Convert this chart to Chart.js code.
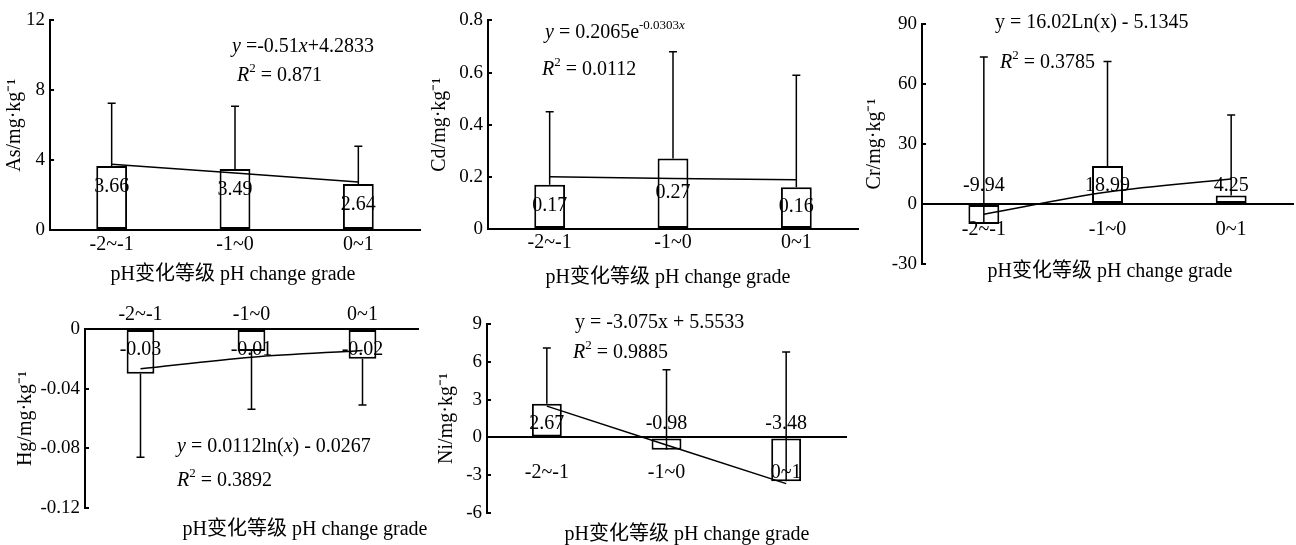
<!DOCTYPE html>
<html>
<head>
<meta charset="utf-8">
<script src="https://cdn.jsdelivr.net/npm/chart.js@4.4.1/dist/chart.umd.min.js"></script>
<style>
body { margin: 0; background: #fff; }
#wrap { position: relative; width: 1296px; height: 545px; overflow: hidden; background: #fff; }
#wrap canvas { position: absolute; left: 0; top: 0; }
</style>
</head>
<body>
<div id="wrap">
  <canvas id="asChart" width="1296" height="545"></canvas>
  <canvas id="cdChart" width="1296" height="545"></canvas>
  <canvas id="crChart" width="1296" height="545"></canvas>
  <canvas id="hgChart" width="1296" height="545"></canvas>
  <canvas id="niChart" width="1296" height="545"></canvas>
</div>
<script>
// pH change grades (categories)
const grades = ['-2~-1', '-1~0', '0~1'];

// As
const asValues = [3.66, 3.49, 2.64];
const asErrors = [3.6, 3.6, 2.16];
const asTrend = [3.77, 3.26, 2.75];
const asTicks = [0, 4, 8, 12];

// Cd
const cdValues = [0.17, 0.27, 0.16];
const cdErrors = [0.28, 0.41, 0.43];
const cdTrend = [0.200, 0.194, 0.189];
const cdTicks = [0, 0.2, 0.4, 0.6, 0.8];

// Cr
const crValues = [-9.94, 18.99, 4.25];
const crErrors = [83.4, 52.2, 40.3];
const crTrend = [-5.13, 5.97, 12.47];
const crTicks = [-30, 0, 30, 60, 90];

// Hg (error bars point downwards)
const hgValues = [-0.030, -0.0148, -0.020];
const hgErrors = [-0.056, -0.039, -0.031];
const hgTrend = [-0.0267, -0.0189, -0.0144];
const hgTicks = [-0.12, -0.08, -0.04, 0];

// Ni
const niValues = [2.67, -0.98, -3.48];
const niErrors = [4.42, 6.35, 10.26];
const niTrend = [2.48, -0.60, -3.67];
const niTicks = [-6, -3, 0, 3, 6, 9];

const xTitle = 'pH变化等级 pH change grade';
const FONT = '"Liberation Serif", "Times New Roman", "Noto Sans CJK SC", serif';
const SIZE = 20;

Chart.defaults.font.family = FONT;
Chart.defaults.font.size = SIZE;
Chart.defaults.color = '#000';

// draw a line of text made of parts (italic / superscript)
function drawParts(ctx, x, y, parts) {
    ctx.textAlign = 'left';
    ctx.textBaseline = 'middle';
    let cx = x;
    parts.forEach(p => {
        const size = p.sup ? 13 : SIZE;
        ctx.font = (p.i ? 'italic ' : '') + size + 'px ' + FONT;
        ctx.fillText(p.t, cx, p.sup ? y - 7 : y);
        cx += ctx.measureText(p.t).width;
    });
}

function rSquared(value) {
    return [{ t: 'R', i: true }, { t: '2', sup: true }, { t: ' = ' + value }];
}

function makePanel(id, p) {
    // error bars, value labels, equation and x title
    const extras = {
        id: 'extras',
        afterDatasetsDraw(chart) {
            const ctx = chart.ctx;
            const yScale = chart.scales.y;
            const meta = chart.getDatasetMeta(1);
            ctx.save();
            ctx.strokeStyle = '#000';
            ctx.fillStyle = '#000';
            ctx.lineWidth = 1.5;
            meta.data.forEach((bar, i) => {
                const y0 = yScale.getPixelForValue(p.values[i]);
                const y1 = yScale.getPixelForValue(p.values[i] + p.errors[i]);
                ctx.beginPath();
                ctx.moveTo(bar.x, y0);
                ctx.lineTo(bar.x, y1);
                ctx.moveTo(bar.x - 4, y1);
                ctx.lineTo(bar.x + 4, y1);
                ctx.stroke();
            });
            ctx.font = SIZE + 'px ' + FONT;
            ctx.textAlign = 'center';
            ctx.textBaseline = 'middle';
            const zero = yScale.getPixelForValue(0);
            meta.data.forEach((bar, i) => {
                let ly;
                if (p.labelAt === 'top') ly = Math.min(bar.y, bar.base) + p.labelDy;
                else if (p.labelAt === 'mid') ly = (bar.y + bar.base) / 2 + p.labelDy;
                else ly = zero + p.labelDy;
                ctx.fillText(p.values[i].toFixed(2), bar.x, ly);
            });
            p.equation.forEach(line => drawParts(ctx, line.x, line.y, line.parts));
            ctx.font = SIZE + 'px ' + FONT;
            ctx.textAlign = 'center';
            ctx.fillText(xTitle, p.titleX, p.titleY);
            ctx.restore();
        }
    };

    new Chart(document.getElementById(id), {
        type: 'bar',
        data: {
            labels: grades,
            datasets: [
                {
                    type: 'line',
                    data: p.trend,
                    borderColor: '#000',
                    borderWidth: 1.5,
                    pointRadius: 0,
                    tension: p.curve ? 0.4 : 0,
                    cubicInterpolationMode: p.curve ? 'monotone' : 'default',
                    order: 0
                },
                {
                    type: 'bar',
                    data: p.values,
                    backgroundColor: '#fff',
                    borderColor: '#000',
                    borderWidth: 2,
                    borderSkipped: false,
                    categoryPercentage: 1,
                    barPercentage: 0.25,
                    order: 1
                }
            ]
        },
        options: {
            responsive: false,
            animation: false,
            events: [],
            layout: { padding: p.pad },
            plugins: { legend: { display: false }, tooltip: { enabled: false } },
            scales: {
                x: {
                    position: p.xTop ? 'top' : { y: 0 },
                    grid: { display: false, drawTicks: false },
                    border: { color: '#000', width: 2 },
                    // category labels sit on top of the bars
                    ticks: { padding: p.xPad, font: { size: SIZE }, z: 1 },
                    afterFit: s => { if (p.xTop) s.height = p.xTopH; }
                },
                y: {
                    min: p.ticks[0],
                    max: p.ticks[p.ticks.length - 1],
                    afterBuildTicks: s => { s.ticks = p.ticks.map(v => ({ value: v })); },
                    ticks: { padding: 9, font: { size: 19 }, callback: v => String(v) },
                    grid: { drawOnChartArea: false, color: '#000', lineWidth: 2, tickLength: -4 },
                    border: { color: '#000', width: 2 },
                    title: { display: true, text: p.yTitle, padding: 0, font: { size: SIZE } },
                    afterFit: s => { s.width = p.yw; }
                }
            }
        },
        plugins: [extras]
    });
}

window.addEventListener('load', function () {
    makePanel('asChart', {
        values: asValues, errors: asErrors, trend: asTrend, ticks: asTicks,
        yTitle: 'As/mg·kg⁻¹',
        pad: { left: 3, top: 20, right: 876, bottom: 315 }, yw: 47, xPad: 3,
        labelAt: 'top', labelDy: 21,
        titleX: 233, titleY: 275,
        equation: [
            { x: 232, y: 47, parts: [{ t: 'y', i: true }, { t: ' =-0.51' }, { t: 'x', i: true }, { t: '+4.2833' }] },
            { x: 237, y: 76, parts: rSquared('0.871') }
        ]
    });

    makePanel('cdChart', {
        values: cdValues, errors: cdErrors, trend: cdTrend, ticks: cdTicks,
        yTitle: 'Cd/mg·kg⁻¹',
        pad: { left: 428, top: 20, right: 438, bottom: 316 }, yw: 60, xPad: 2,
        labelAt: 'mid', labelDy: -1,
        titleX: 668, titleY: 278,
        equation: [
            { x: 545, y: 33, parts: [{ t: 'y', i: true }, { t: ' = 0.2065e' }, { t: '-0.0303', sup: true }, { t: 'x', i: true, sup: true }] },
            { x: 542, y: 70, parts: rSquared('0.0112') }
        ]
    });

    makePanel('crChart', {
        values: crValues, errors: crErrors, trend: crTrend, ticks: crTicks, curve: true,
        yTitle: 'Cr/mg·kg⁻¹',
        pad: { left: 863, top: 24, right: 3, bottom: 281 }, yw: 59, xPad: 14,
        labelAt: 'zero', labelDy: -18,
        titleX: 1110, titleY: 272,
        equation: [
            { x: 995, y: 23, parts: [{ t: 'y = 16.02Ln(x) - 5.1345' }] },
            { x: 1000, y: 63, parts: rSquared('0.3785') }
        ]
    });

    makePanel('hgChart', {
        values: hgValues, errors: hgErrors, trend: hgTrend, ticks: hgTicks, curve: true,
        yTitle: 'Hg/mg·kg⁻¹',
        pad: { left: 14, top: 290, right: 878, bottom: 37 }, yw: 71,
        xTop: true, xTopH: 39, xPad: 2,
        labelAt: 'zero', labelDy: 21,
        titleX: 305, titleY: 530,
        equation: [
            { x: 177, y: 447, parts: [{ t: 'y', i: true }, { t: ' = 0.0112ln(' }, { t: 'x', i: true }, { t: ') - 0.0267' }] },
            { x: 177, y: 481, parts: rSquared('0.3892') }
        ]
    });

    makePanel('niChart', {
        values: niValues, errors: niErrors, trend: niTrend, ticks: niTicks,
        yTitle: 'Ni/mg·kg⁻¹',
        pad: { left: 435, top: 324, right: 450, bottom: 32 }, yw: 52, xPad: 23,
        labelAt: 'zero', labelDy: -14,
        titleX: 687, titleY: 535,
        equation: [
            { x: 575, y: 323, parts: [{ t: 'y = -3.075x + 5.5533' }] },
            { x: 573, y: 353, parts: rSquared('0.9885') }
        ]
    });
});
</script>
</body>
</html>
